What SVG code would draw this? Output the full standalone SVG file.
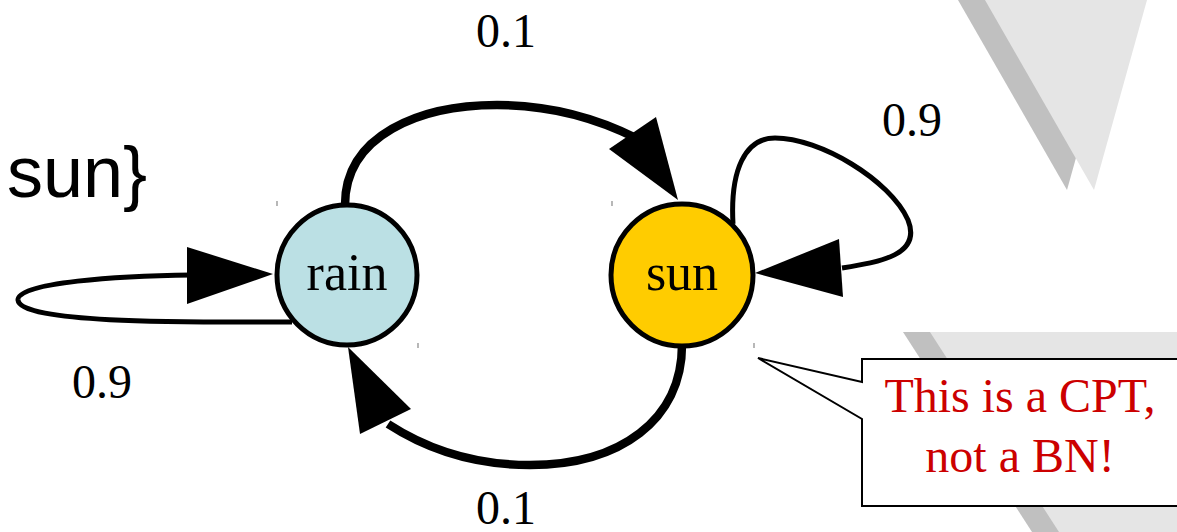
<svg xmlns="http://www.w3.org/2000/svg" width="1177" height="532" viewBox="0 0 1177 532">
<style>
.node{stroke:#000;stroke-width:5}
.lbl{font-family:"Liberation Serif","Times New Roman",serif;fill:#000;text-anchor:middle}
.edge{fill:none;stroke:#000}
.thick{stroke-width:8.5}
.thin{stroke-width:5}
.tick{stroke:#888;stroke-width:1.2}
.note{font-family:"Liberation Serif","Times New Roman",serif;fill:#cc0000;font-size:48px;text-anchor:middle}
</style>
<rect width="1177" height="532" fill="#fff"/>
<g id="background">
<polygon points="958,0 1120,0 1067,190" fill="#c0c0c0"/>
<polygon points="985,0 1147,0 1094,190" fill="#e5e5e5"/>
<polygon points="903,332 1177,332 1177,532 1032,532" fill="#c0c0c0"/>
<polygon points="930,332 1177,332 1177,532 1059,532" fill="#e5e5e5"/>
</g>
<text x="7" y="197" font-family="'Liberation Sans',Arial,sans-serif" font-size="72" fill="#000">sun}</text>
<g id="connectors">
<path class="edge thick" d="M345,205 C345,135 420,105 497,105 C555,105 600,120 636,138"/>
<polygon points="678,200 609,149 656,117" fill="#000"/>
<path class="edge thick" d="M682,345 C682,420 620,465 530,465 C470,465 425,448 388,424"/>
<polygon points="348,347 360,434 411,409" fill="#000"/>
<path class="edge thin" d="M292,322 C210,322 20,325 18,300 C17,282 120,276 192,275"/>
<polygon points="273,274 187,247 187,304" fill="#000"/>
<path class="edge thin" d="M733,224 C730,170 745,138 775,138 C820,138 890,180 908,220 C922,255 880,262 842,268"/>
<polygon points="755,273 839,239 843,297" fill="#000"/>
</g>
<g id="rain">
<circle class="node" cx="347" cy="275" r="70" fill="#bbe0e4"/>
<text class="lbl" x="347" y="290" font-size="52">rain</text>
</g>
<g id="sun">
<circle class="node" cx="682" cy="275" r="71" fill="#ffcc00"/>
<text class="lbl" x="682" y="290" font-size="52">sun</text>
</g>
<g id="labels">
<text class="lbl" x="506" y="47" font-size="48">0.1</text>
<text class="lbl" x="506" y="524" font-size="48">0.1</text>
<text class="lbl" x="912" y="136" font-size="48">0.9</text>
<text class="lbl" x="102" y="398" font-size="48">0.9</text>
</g>
<g id="ticks">
<line class="tick" x1="277" y1="201" x2="277" y2="206"/>
<line class="tick" x1="418" y1="343" x2="418" y2="348"/>
<line class="tick" x1="612" y1="201" x2="612" y2="206"/>
<line class="tick" x1="754" y1="343" x2="754" y2="348"/>
</g>
<g id="callout">
<path d="M862,359 L1180,359 L1180,506 L862,506 L862,419 L758,358 L862,382 Z" fill="#fff" stroke="#000" stroke-width="2"/>
<text class="note" x="1020" y="412">This is a CPT,</text>
<text class="note" x="1020" y="472">not a BN!</text>
</g>
</svg>
